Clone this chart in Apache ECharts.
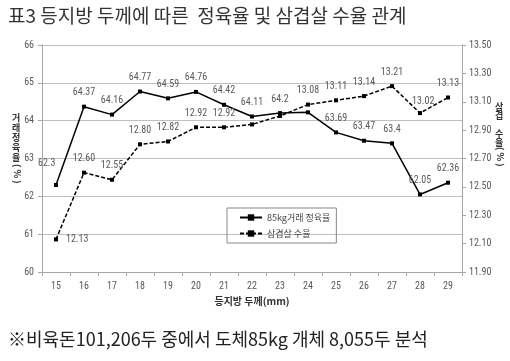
<!DOCTYPE html>
<html><head><meta charset="utf-8">
<script src="https://cdn.jsdelivr.net/npm/echarts@6/dist/echarts.min.js"></script>
<style>html,body{margin:0;padding:0;background:#fff;}#c{width:510px;height:361px;}</style>
</head><body><div id="c"></div>
<script>
const categories = ['15','16','17','18','19','20','21','22','23','24','25','26','27','28','29'];
const yieldLean = [62.3, 64.37, 64.16, 64.77, 64.59, 64.76, 64.42, 64.11, 64.2, 64.22, 63.69, 63.47, 63.4, 62.05, 62.36];
const leanLabels = ['62.3','64.37','64.16','64.77','64.59','64.76','64.42','64.11','64.2','','63.69','63.47','63.4','62.05','62.36'];
const yieldBelly = [12.13, 12.60, 12.55, 12.80, 12.82, 12.92, 12.92, 12.94, 13.00, 13.08, 13.11, 13.14, 13.21, 13.02, 13.13];
const bellyLabels = ['12.13','12.60','12.55','12.80','12.82','12.92','12.92','','','13.08','13.11','13.14','13.21','13.02','13.13'];
const leftTicks = [60, 66, 1];
const rightTicks = [11.9, 13.5, 0.2];

const numFont = '"Liberation Sans Narrow", "Roboto Condensed", Roboto, sans-serif';
const chart = echarts.init(document.getElementById('c'));
const lblColor = '#595959';
const leanData = yieldLean.map((v,i)=>{
  const d = {value: v, label: {show: leanLabels[i] !== '', formatter: leanLabels[i]}};
  if (i===0) d.label.position = [-16,-24];
  return d;
});
const bellyData = yieldBelly.map((v,i)=>{
  const d = {value: v, label: {show: bellyLabels[i] !== '', formatter: bellyLabels[i]}};
  if (i===0) d.label.position = 'right';
  if (i===0) d.label.distance = 8;
  if (i===13) d.label.position = [-6,-15];
  return d;
});
const nameFont = 'bold 9px "Noto Sans CJK KR"';
chart.setOption({
  animation: false,
  textStyle: {fontFamily: numFont},
  graphic: [
    {type:'text', left: 8, top: 6, style:{text:'표3 등지방 두께에 따른  정육율 및 삼겹살 수율 관계', font:'19px "Noto Sans CJK KR"', fill:'#333'}},
    {type:'text', left: 8, top: 330, style:{text:'※비육돈101,206두 중에서 도체85kg 개체 8,055두 분석', font:'18px "Noto Sans CJK KR"', fill:'#222'}},
    {type:'text', left: 12, top: 113, style:{text:'거\n래\n정\n육\n율', font: nameFont, fill:'#333', lineHeight: 10}},
    {type:'text', x: 22, y: 164, rotation: -Math.PI/2, style:{text:'( % )', font: nameFont, fill:'#333'}},
    {type:'text', left: 495, top: 102, style:{text:'삼\n겹\n\n수\n율', font: nameFont, fill:'#333', lineHeight: 9}},
    {type:'text', x: 505, y: 147, rotation: -Math.PI/2, style:{text:'( % )', font: nameFont, fill:'#333'}}
  ],
  legend: {
    orient: 'vertical', left: 227, top: 208, itemWidth: 22, itemHeight: 8, itemGap: 7,
    padding: [5, 6, 5, 12],
    borderColor: '#888', borderWidth: 1,
    textStyle: {fontSize: 9, color: '#444', fontFamily: 'Noto Sans CJK KR'},
    data: ['85kg거래 정육율', '삼겹살 수율']
  },
  grid: {left: 42, right: 48, top: 45, bottom: 89},
  xAxis: {
    type: 'category', data: categories, boundaryGap: true,
    name: '등지방 두께(mm)', nameLocation: 'middle', nameGap: 23,
    nameTextStyle: {fontSize: 10, fontWeight: 'bold', color: '#333', fontFamily: 'Noto Sans CJK KR'},
    axisLine: {lineStyle: {color: '#a6a6a6'}},
    axisTick: {show: true, length: 4, lineStyle: {color: '#a6a6a6'}},
    axisLabel: {fontSize: 10, color: lblColor, margin: 9}
  },
  yAxis: [
    {type: 'value', min: leftTicks[0], max: leftTicks[1], interval: leftTicks[2],
     axisLine: {show: true, lineStyle: {color: '#a6a6a6'}},
     axisTick: {show: true, length: 4, lineStyle: {color: '#a6a6a6'}},
     axisLabel: {fontSize: 10, color: lblColor, margin: 8},
     splitLine: {lineStyle: {color: '#bfbfbf'}}},
    {type: 'value', min: rightTicks[0], max: rightTicks[1], interval: rightTicks[2],
     axisLine: {show: true, lineStyle: {color: '#a6a6a6'}},
     axisTick: {show: true, length: 4, lineStyle: {color: '#a6a6a6'}},
     axisLabel: {fontSize: 10, color: lblColor, margin: 7, formatter: v => v.toFixed(2)},
     splitLine: {show: false}}
  ],
  series: [
    {name: '85kg거래 정육율', type: 'line', yAxisIndex: 0, data: leanData,
     symbol: 'rect', symbolSize: 4, itemStyle: {color: '#000'},
     lineStyle: {color: '#000', width: 1.5},
     label: {show: true, position: 'top', distance: 7, fontSize: 10, color: lblColor}},
    {name: '삼겹살 수율', type: 'line', yAxisIndex: 1, data: bellyData,
     symbol: 'rect', symbolSize: 4, itemStyle: {color: '#000'},
     lineStyle: {color: '#000', width: 1.5, type: [4, 2]},
     label: {show: true, position: 'top', distance: 7, fontSize: 10, color: lblColor}}
  ]
});
</script></body></html>
